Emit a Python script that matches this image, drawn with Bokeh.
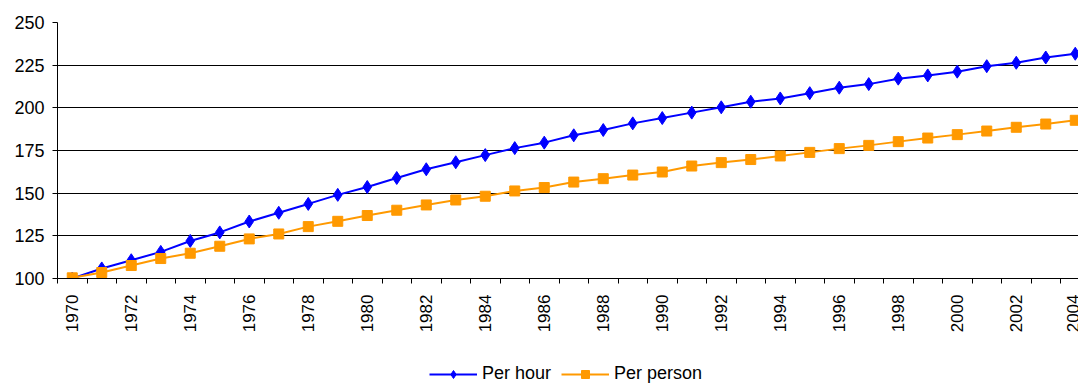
import math
from bokeh.plotting import figure
from bokeh.layouts import column
from bokeh.models import ColumnDataSource, FixedTicker, Legend, LegendItem, Range1d
from bokeh.embed import file_html
from bokeh.resources import INLINE

years = list(range(1970, 2005))
per_hour = [100.0, 105.9, 110.7, 115.6, 122.0, 127.0, 133.4, 138.5, 143.7, 149.0,
            153.6, 158.9, 164.0, 168.1, 172.3, 176.4, 179.6, 183.9, 187.0, 190.9,
            194.0, 197.2, 200.3, 203.6, 205.5, 208.6, 211.8, 213.9, 217.1, 219.0,
            221.2, 224.4, 226.4, 229.5, 231.7]
per_person = [100.4, 103.5, 107.6, 111.7, 114.8, 118.9, 123.2, 126.1, 130.4, 133.5,
              136.9, 140.0, 143.1, 146.0, 148.2, 151.3, 153.3, 156.5, 158.5, 160.6,
              162.4, 165.9, 167.9, 169.7, 171.8, 173.9, 176.1, 178.0, 180.2, 182.3,
              184.3, 186.4, 188.6, 190.5, 192.7]
y_ticks = [100, 125, 150, 175, 200, 225, 250]
x_label_years = list(range(1970, 2005, 2))

src = ColumnDataSource(dict(year=years, hour=per_hour, person=per_person))

FONT = "Liberation Sans"
blue = "#0000FF"
orange = "#FF9900"

p = figure(width=1078, height=350, output_backend="svg", toolbar_location=None,
           x_range=Range1d(1969.5, 2004.11), y_range=Range1d(100, 250),
           min_border_left=57, min_border_right=0, min_border_top=22,
           min_border_bottom=72)
p.outline_line_color = None
p.background_fill_color = "white"
p.border_fill_color = "white"

# grid
p.xgrid.grid_line_color = None
p.ygrid.grid_line_color = "#000000"
p.ygrid.grid_line_width = 1
p.ygrid.ticker = FixedTicker(ticks=y_ticks)

# y axis
p.yaxis.ticker = FixedTicker(ticks=y_ticks)
p.yaxis.axis_line_color = "#000000"
p.yaxis.major_tick_line_color = "#000000"
p.yaxis.major_tick_out = 5
p.yaxis.major_tick_in = 0
p.yaxis.minor_tick_line_color = None
p.yaxis.major_label_standoff = 8
p.yaxis.major_label_text_font = FONT
p.yaxis.major_label_text_font_size = "18px"
p.yaxis.major_label_text_color = "#000000"

# x axis
p.xaxis.ticker = FixedTicker(ticks=x_label_years,
                             minor_ticks=[y - 0.5 for y in years] + [2004.5])
p.xaxis.axis_line_color = "#000000"
p.xaxis.major_tick_out = 0
p.xaxis.major_tick_in = 0
p.xaxis.minor_tick_out = 5
p.xaxis.minor_tick_in = 0
p.xaxis.minor_tick_line_color = "#000000"
p.xaxis.major_label_orientation = math.pi / 2
p.xaxis.major_label_standoff = 11
p.xaxis.major_label_text_font = FONT
p.xaxis.major_label_text_font_size = "17px"
p.xaxis.major_label_text_color = "#000000"

p.line("year", "hour", source=src, line_color=blue, line_width=2)
p.scatter("year", "hour", source=src, marker="diamond",
          size=13, fill_color=blue, line_color=blue)
p.line("year", "person", source=src, line_color=orange, line_width=2)
p.scatter("year", "person", source=src, marker="square", size=10,
          fill_color=orange, line_color=orange)

# legend strip (same series, ranges chosen so that only the legend shows)
q = figure(width=1078, height=35, output_backend="svg", toolbar_location=None,
           x_range=Range1d(0, 1), y_range=Range1d(0, 1),
           min_border_left=0, min_border_right=0, min_border_top=0,
           min_border_bottom=0)
q.axis.visible = False
q.grid.grid_line_color = None
q.outline_line_color = None
q.border_fill_color = "white"
l1 = q.line("year", "hour", source=src, line_color=blue, line_width=2)
s1 = q.scatter("year", "hour", source=src, marker="diamond",
               size=13, fill_color=blue, line_color=blue)
l2 = q.line("year", "person", source=src, line_color=orange, line_width=2)
s2 = q.scatter("year", "person", source=src, marker="square", size=10,
               fill_color=orange, line_color=orange)

legend = Legend(items=[LegendItem(label="Per hour", renderers=[l1, s1]),
                       LegendItem(label="Per person", renderers=[l2, s2])],
                orientation="horizontal", location=(372, 1))
legend.label_text_font = FONT
legend.label_text_font_size = "18px"
legend.label_text_color = "#000000"
legend.glyph_width = 48
legend.glyph_height = 20
legend.label_standoff = 5
legend.spacing = 10
legend.padding = 0
legend.margin = 0
legend.border_line_color = None
legend.background_fill_alpha = 0
q.add_layout(legend, "center")

layout = column(p, q, spacing=0)
open("out.html", "w").write(file_html(layout, INLINE))
